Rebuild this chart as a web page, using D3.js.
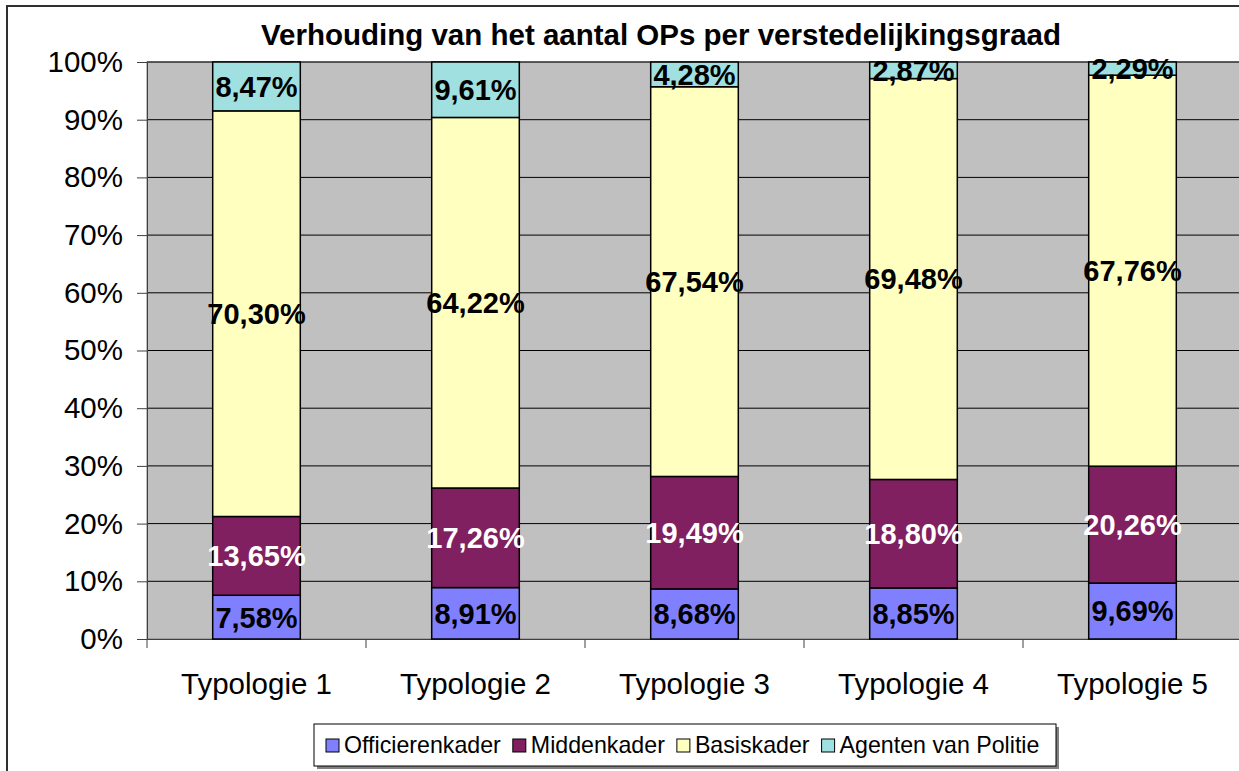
<!DOCTYPE html>
<html>
<head>
<meta charset="utf-8">
<script src="https://cdn.jsdelivr.net/npm/d3@7"></script>
<style>
  body { margin: 0; background: #fff; }
  svg { display: block; font-family: Arial, "Liberation Sans", sans-serif; }
</style>
</head>
<body>
<div id="chart"></div>
<script>
const categories = ['Typologie 1', 'Typologie 2', 'Typologie 3', 'Typologie 4', 'Typologie 5'];
const seriesNames = ['Officierenkader', 'Middenkader', 'Basiskader', 'Agenten van Politie'];
const officierenkader = [7.58, 8.91, 8.68, 8.85, 9.69];
const middenkader = [13.65, 17.26, 19.49, 18.80, 20.26];
const basiskader = [70.30, 64.22, 67.54, 69.48, 67.76];
const agenten = [8.47, 9.61, 4.28, 2.87, 2.29];
const yTicks = [0, 10, 20, 30, 40, 50, 60, 70, 80, 90, 100];
const colors = ['#8080ff', '#802060', '#ffffc0', '#a0e0e0'];
const labelColors = ['#000', '#fff', '#000', '#000'];
const title = 'Verhouding van het aantal OPs per verstedelijkingsgraad';

const W = 1239, H = 771;
const plot = {left: 147, top: 62, right: 1242, bottom: 639};

const svg = d3.select('#chart').append('svg')
    .attr('width', W).attr('height', H);

// outer chart border
svg.append('rect')
    .attr('x', 7).attr('y', 6)
    .attr('width', 1320).attr('height', 820)
    .attr('fill', '#fff').attr('stroke', '#303030').attr('stroke-width', 2);

svg.append('text')
    .attr('x', 661).attr('y', 45)
    .attr('text-anchor', 'middle')
    .attr('font-weight', 'bold')
    .attr('font-size', 29.5)
    .text(title);

const rows = categories.map((c, i) => ({
    cat: c,
    [seriesNames[0]]: officierenkader[i],
    [seriesNames[1]]: middenkader[i],
    [seriesNames[2]]: basiskader[i],
    [seriesNames[3]]: agenten[i]
}));

const x = d3.scaleBand().domain(categories).range([plot.left, plot.right]);
const y = d3.scaleLinear().domain([0, 100]).range([plot.bottom, plot.top]);

// plot background
svg.append('rect')
    .attr('x', plot.left).attr('y', plot.top)
    .attr('width', plot.right - plot.left).attr('height', plot.bottom - plot.top)
    .attr('fill', '#c0c0c0').attr('stroke', '#808080');

// gridlines
svg.append('g').selectAll('line').data(yTicks.slice(1)).enter()
    .append('line')
    .attr('x1', plot.left).attr('x2', plot.right)
    .attr('y1', d => y(d)).attr('y2', d => y(d))
    .attr('stroke', '#000').attr('stroke-width', 1);

// y axis
const yAxis = svg.append('g')
    .attr('transform', 'translate(' + plot.left + ',0)')
    .call(d3.axisLeft(y).tickValues(yTicks).tickSize(10).tickPadding(14).tickFormat(d => d + '%'));
yAxis.selectAll('path, line').attr('stroke', '#404040');
yAxis.selectAll('text').attr('font-size', 29.5).attr('fill', '#000').attr('font-family', null);

// x axis
const xAxis = svg.append('g')
    .attr('transform', 'translate(0,' + plot.bottom + ')')
    .call(d3.axisBottom(x).tickSize(0).tickPadding(34));
xAxis.select('.domain').attr('stroke', '#404040');
xAxis.selectAll('text').attr('font-size', 29.5).attr('fill', '#000').attr('font-family', null);
svg.append('g').selectAll('line').data(categories.concat(['end'])).enter()
    .append('line')
    .attr('x1', (d, i) => plot.left + i * x.bandwidth())
    .attr('x2', (d, i) => plot.left + i * x.bandwidth())
    .attr('y1', plot.bottom).attr('y2', plot.bottom + 9)
    .attr('stroke', '#404040');

// bars
const stack = d3.stack().keys(seriesNames)(rows);
const barW = x.bandwidth() * 0.4;
const layers = svg.append('g').selectAll('g').data(stack).enter()
    .append('g')
    .attr('fill', (d, i) => colors[i]);
layers.selectAll('rect').data(d => d).enter()
    .append('rect')
    .attr('x', d => x(d.data.cat) + (x.bandwidth() - barW) / 2)
    .attr('width', barW)
    .attr('y', d => y(d[1]))
    .attr('height', d => y(d[0]) - y(d[1]))
    .attr('stroke', '#000').attr('stroke-width', 1.5);

// data labels
const fmt = v => v.toFixed(2).replace('.', ',') + '%';
layers.each(function(layer, li) {
    d3.select(this).selectAll('text').data(layer).enter()
        .append('text')
        .attr('x', d => x(d.data.cat) + x.bandwidth() / 2)
        .attr('y', d => y((d[0] + d[1]) / 2))
        .attr('dy', '0.36em')
        .attr('text-anchor', 'middle')
        .attr('font-weight', 'bold')
        .attr('font-size', 29)
        .attr('fill', labelColors[li])
        .text(d => fmt(d.data[layer.key]));
});

// legend
const lg = svg.append('g');
const box = {x: 314, y: 724, w: 742, h: 42};
lg.append('rect')
    .attr('x', box.x + 3).attr('y', box.y + 3)
    .attr('width', box.w).attr('height', box.h)
    .attr('fill', '#808080');
lg.append('rect')
    .attr('x', box.x).attr('y', box.y)
    .attr('width', box.w).attr('height', box.h)
    .attr('fill', '#fff').attr('stroke', '#000');
let lx = box.x + 12;
seriesNames.forEach((name, i) => {
    lg.append('rect')
        .attr('x', lx).attr('y', box.y + 15)
        .attr('width', 13).attr('height', 13)
        .attr('fill', colors[i]).attr('stroke', '#000');
    const t = lg.append('text')
        .attr('x', lx + 18).attr('y', box.y + 29)
        .attr('font-size', 23.2)
        .text(name);
    lx += 18 + t.node().getComputedTextLength() + 12;
});
</script>
</body>
</html>
